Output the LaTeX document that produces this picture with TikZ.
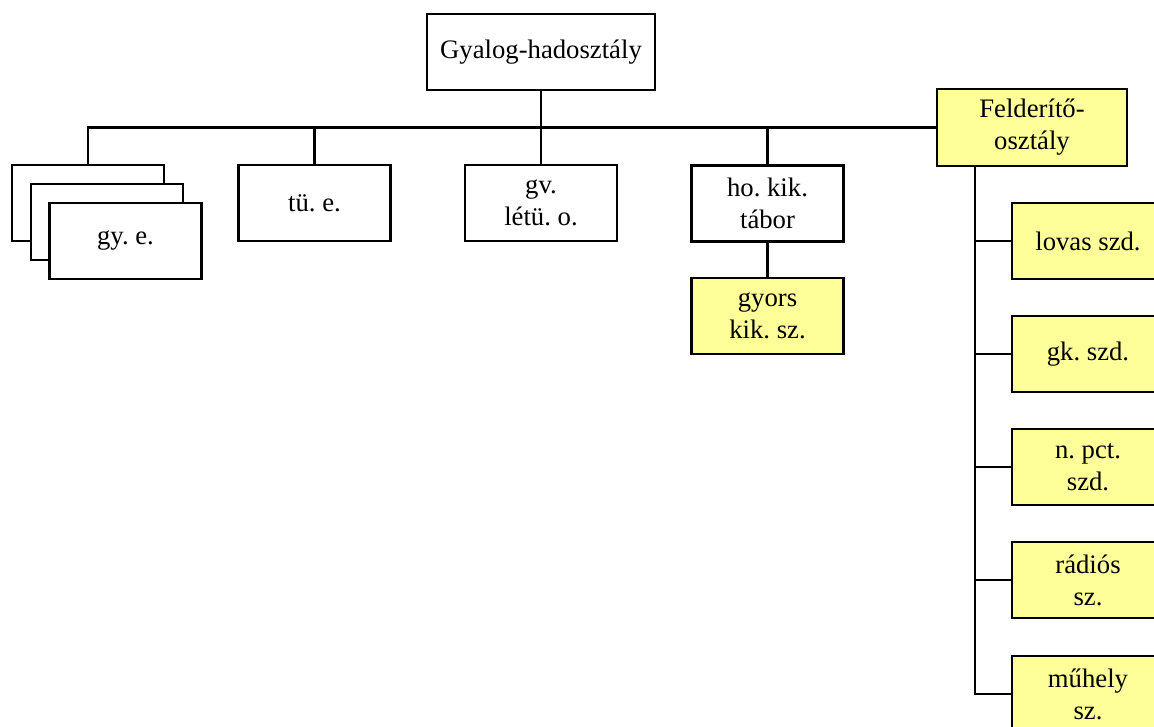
\documentclass[tikz,border=0pt]{standalone}
\usepackage{fontspec}
\setmainfont{Liberation Serif}
\definecolor{boxyellow}{RGB}{255,255,153}
\begin{document}
\begin{tikzpicture}[x=1pt,y=-1pt,
  unit/.style={draw=black, line width=2.6pt, fill=white, minimum width=152pt, minimum height=76pt,
    inner sep=0pt, align=center, font=\fontsize{26.7pt}{32pt}\selectfont\frenchspacing},
  yunit/.style={unit, fill=boxyellow},
  link/.style={line width=2.2pt}]
\useasboundingbox (0,0) rectangle (1154,727);
\clip (0,0) rectangle (1154,727);
% top
\node[unit, minimum width=228pt] (top) at (541,52) {Gyalog-hadosztály};
\node[yunit, minimum width=190pt, minimum height=77pt] (fel) at (1032,127.5) {Felderítő-\\osztály};
% gy. e. stack
\node[unit] (gya) at (88,203) {};
\node[unit] (gyb) at (107,222) {};
\node[unit] (gy) at (125.5,241) {gy. e.};
\node[unit] (tu) at (314.5,203) {tü. e.};
\node[unit] (gv) at (541,203) {gv.\\létü. o.};
\node[unit] (ho) at (767.5,203.5) {ho. kik.\\tábor};
\node[yunit] (gyors) at (767.5,316) {gyors\\kik. sz.};
% reconnaissance subunits
\node[yunit] (lovas) at (1088,241) {lovas szd.};
\node[yunit] (gk) at (1088,354) {gk. szd.};
\node[yunit] (npct) at (1088,467) {n. pct.\\szd.};
\node[yunit] (radio) at (1088,580) {rádiós\\sz.};
\node[yunit] (muhely) at (1088,694) {műhely\\sz.};
\coordinate (spine) at (975,166);
% connectors
\draw[link] (gya.north) |- (fel.west);
\draw[link] (top.south) -- (top.south |- fel.west);
\draw[link] (tu.north) -- (tu.north |- fel.west);
\draw[link] (gv.north) -- (gv.north |- fel.west);
\draw[link] (ho.north) -- (ho.north |- fel.west);
\draw[link] (ho.south) -- (gyors.north);
\draw[link] (spine) |- (muhely.west);
\draw[link] (spine |- lovas.west) -- (lovas.west);
\draw[link] (spine |- gk.west) -- (gk.west);
\draw[link] (spine |- npct.west) -- (npct.west);
\draw[link] (spine |- radio.west) -- (radio.west);
\end{tikzpicture}
\end{document}
